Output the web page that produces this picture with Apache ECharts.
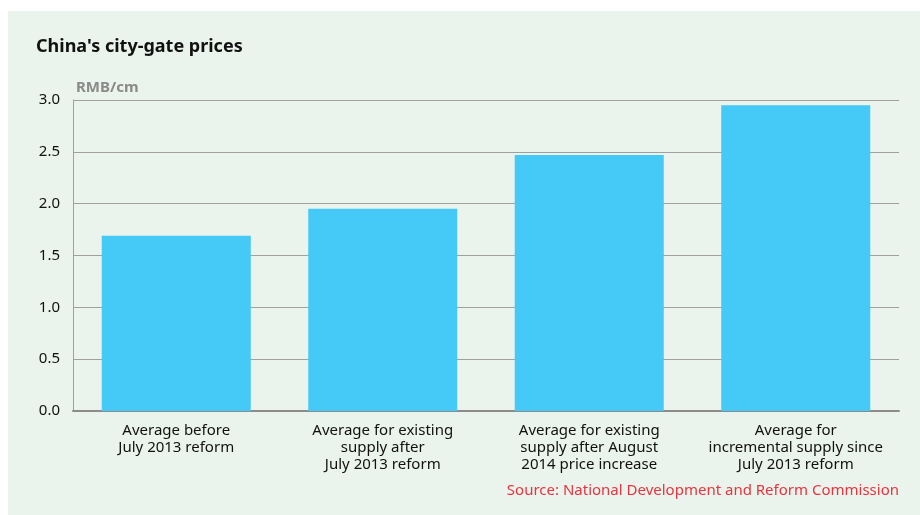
<!DOCTYPE html>
<html>
<head>
<meta charset="utf-8">
<script src="https://cdn.jsdelivr.net/npm/echarts@6/dist/echarts.min.js"></script>
<style>
  html, body { margin: 0; padding: 0; background: #ffffff; }
  #chart { width: 920px; height: 515px; }
</style>
</head>
<body>
<div id="chart"></div>
<script>
// données
const categories = [
    "Average before\nJuly 2013 reform",
    "Average for existing\nsupply after\nJuly 2013 reform",
    "Average for existing\nsupply after August\n2014 price increase",
    "Average for\nincremental supply since\nJuly 2013 reform"
];
const prices = [1.69, 1.95, 2.47, 2.95];
const yTicks = [0, 0.5, 1.0, 1.5, 2.0, 2.5, 3.0];

const FONT = "'Noto Sans', sans-serif";
const chart = echarts.init(document.getElementById("chart"));

const option = {
    animation: false,
    backgroundColor: "#ffffff",
    graphic: [
        { type: "rect", z: -10, shape: { x: 8, y: 11, width: 912, height: 504 }, style: { fill: "#eaf3ec" } },
        { type: "text", left: 36, top: 38, style: { text: "China's city-gate prices", font: "bold 18px " + FONT, fill: "#111" } },
        { type: "text", left: 76, top: 80, style: { text: "RMB/cm", font: "bold 15px " + FONT, fill: "#8a8a8a" } },
        { type: "text", right: 21, top: 483, style: { text: "Source: National Development and Reform Commission", font: "15px " + FONT, fill: "#e8343f" } }
    ],
    grid: { left: 73, right: 21, top: 100, bottom: 104 },
    xAxis: {
        type: "category",
        data: categories,
        axisLine: { lineStyle: { color: "#8c8c8c", width: 2 } },
        axisTick: { show: false },
        axisLabel: { interval: 0, margin: 11, color: "#111", fontFamily: FONT, fontSize: 15, lineHeight: 17, align: "center" }
    },
    yAxis: {
        type: "value",
        min: yTicks[0],
        max: yTicks[yTicks.length - 1],
        interval: 0.5,
        axisLine: { show: true, lineStyle: { color: "#a0a0a0", width: 1 } },
        axisTick: { show: false },
        splitLine: { lineStyle: { color: "#a0a0a0", width: 1 } },
        axisLabel: { margin: 13, color: "#111", fontFamily: FONT, fontSize: 15, formatter: v => v.toFixed(1) }
    },
    series: [{
        type: "bar",
        data: prices,
        barWidth: 149,
        itemStyle: { color: "#45c9f6" }
    }]
};

chart.setOption(option);
</script>
</body>
</html>
